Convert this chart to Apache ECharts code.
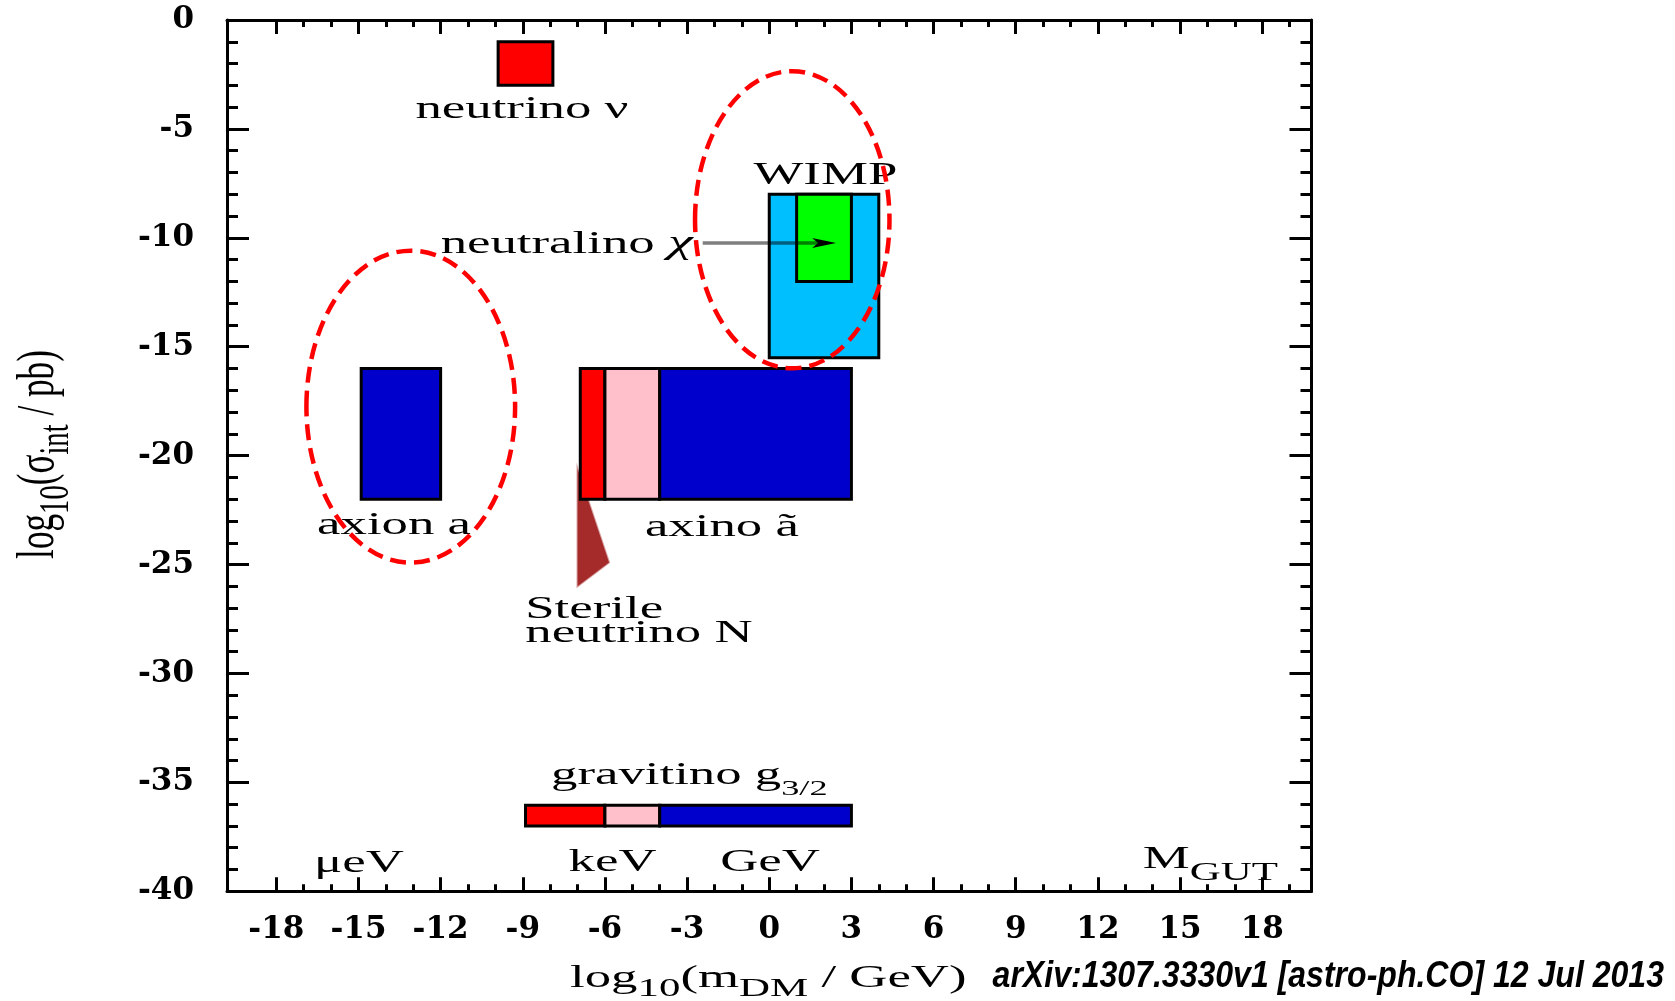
<!DOCTYPE html>
<html>
<head>
<meta charset="utf-8">
<script src="https://cdn.jsdelivr.net/npm/echarts@6/dist/echarts.min.js"></script>
<style>
html,body{margin:0;padding:0;background:#fff;}
#chart{width:1675px;height:1001px;}
</style>
</head>
<body>
<div id="chart"></div>
<script>
// ---------------- data ----------------
// axis ticks
const xTicks = [-18, -15, -12, -9, -6, -3, 0, 3, 6, 9, 12, 15, 18];
const xMinorTicks = [-18, -17, -16, -15, -14, -13, -12, -11, -10, -9, -8, -7, -6, -5, -4, -3, -2, -1, 0,
                     1, 2, 3, 4, 5, 6, 7, 8, 9, 10, 11, 12, 13, 14, 15, 16, 17, 18, 19];

// rectangular regions: log10(m/GeV) range and log10(sigma/pb) range
const boxNames = ['neutrino ν', 'WIMP', 'neutralino χ', 'axion a',
                  'axino (low)', 'axino (mid)', 'axino (high)',
                  'gravitino (low)', 'gravitino (mid)', 'gravitino (high)'];
const boxXMin = [-9.9, 0, 1, -14.9, -6.9, -6, -4, -8.9, -6, -4];
const boxXMax = [-7.9, 4, 3, -12, -6, -4, 3, -6, -4, 3];
const boxYMin = [-3, -15.5, -12, -22, -22, -22, -22, -37, -37, -37];
const boxYMax = [-1, -8, -8, -16, -16, -16, -16, -36.05, -36.05, -36.05];

// sterile neutrino wedge
const sterileX = [-7.0, -5.85, -7.0];
const sterileY = [-20.6, -24.9, -26.0];

// dashed ellipses (centre and half-widths in data units)
const ellipseCX = [-13.09, 0.84];
const ellipseCY = [-17.75, -9.17];
const ellipseRX = [3.81, 3.55];
const ellipseRY = [7.16, 6.82];

// neutralino arrow
const arrowX = [-2.43, 2.44];
const arrowY = [-10.24, -10.24];

// annotations
const labelMain = ['neutrino ν', 'WIMP', 'neutralino ', 'axion a', 'axino ã',
                   'Sterile\nneutrino N', 'gravitino g', 'μeV', 'keV', 'GeV', 'M'];
const labelSub  = ['', '', '', '', '', '', '3/2', '', '', '', 'GUT'];
const labelItal = ['', '', 'χ', '', '', '', '', '', '', '', ''];
const labelX = [-9.03, 2.05, -2.80, -13.7, -1.73, -8.91, -7.97, -14.98, -5.72, 0.03, 13.64];
const labelY = [-4.12, -7.15, -10.3, -23.2, -23.3, -27.62, -34.7, -38.75, -38.68, -38.68, -38.53];

// ---------------- styles ----------------
const boxFill = ['#FF0000', '#00BFFF', '#00FF00', '#0000CC',
                 '#FF0000', '#FFC0CB', '#0000CC',
                 '#FF0000', '#FFC0CB', '#0000CC'];
const labelAlign = ['center', 'center', 'right', 'center', 'center', 'left', 'left', 'center', 'center', 'center', 'left'];
const subPad = {'3/2': 26, 'GUT': 27};
const subSize = {'3/2': 22, 'GUT': 26};

const SERIF = 'Liberation Serif';
const TICKFONT = 'DejaVu Serif';
const STRETCH = 1.65;

function tickAxis(opts) {
  return Object.assign({
    type: 'value',
    gridIndex: 0,
    splitLine: {show: false},
    axisLine: {show: false, onZero: false, lineStyle: {color: '#000', width: 3}},
    axisTick: {show: true, inside: true, lineStyle: {color: '#000', width: 3}},
    axisLabel: {show: false}
  }, opts);
}

const xAxes = [
  tickAxis({position: 'bottom', min: -19.8, max: 19.8,
    axisLine: {show: true, onZero: false, lineStyle: {color: '#000', width: 3}},
    axisTick: {show: true, inside: true, length: 14, customValues: xTicks, lineStyle: {color: '#000', width: 3}},
    axisLabel: {show: true, customValues: xTicks, margin: 23, color: '#000',
      fontFamily: TICKFONT, fontSize: 31, fontWeight: 'bold'}}),
  tickAxis({position: 'bottom', min: -19.8, max: 19.8,
    axisTick: {show: true, inside: true, length: 7, customValues: xMinorTicks, lineStyle: {color: '#000', width: 3}}}),
  tickAxis({position: 'top', min: -19.8, max: 19.8,
    axisLine: {show: true, onZero: false, lineStyle: {color: '#000', width: 3}},
    axisTick: {show: true, inside: true, length: 14, customValues: xTicks, lineStyle: {color: '#000', width: 3}}}),
  tickAxis({position: 'top', min: -19.8, max: 19.8,
    axisTick: {show: true, inside: true, length: 7, customValues: xMinorTicks, lineStyle: {color: '#000', width: 3}}})
];

const yAxes = [
  tickAxis({position: 'left', min: -40, max: 0, interval: 5,
    axisLine: {show: true, onZero: false, lineStyle: {color: '#000', width: 3}},
    axisTick: {show: true, inside: true, length: 22, lineStyle: {color: '#000', width: 3}},
    axisLabel: {show: true, margin: 33, color: '#000', fontFamily: TICKFONT, fontSize: 31, fontWeight: 'bold'}}),
  tickAxis({position: 'left', min: -40, max: 0, interval: 1,
    axisTick: {show: true, inside: true, length: 11, lineStyle: {color: '#000', width: 3}}}),
  tickAxis({position: 'right', min: -40, max: 0, interval: 5,
    axisLine: {show: true, onZero: false, lineStyle: {color: '#000', width: 3}},
    axisTick: {show: true, inside: true, length: 22, lineStyle: {color: '#000', width: 3}}}),
  tickAxis({position: 'right', min: -40, max: 0, interval: 1,
    axisTick: {show: true, inside: true, length: 11, lineStyle: {color: '#000', width: 3}}})
];

const serifRich = {
  n: {fontFamily: SERIF, fontSize: 32, lineHeight: 34},
  s: {fontFamily: SERIF, fontSize: 26, padding: [22, 0, 0, 0]}
};

const option = {
  animation: false,
  backgroundColor: '#fff',
  grid: {left: 227, top: 20, width: 1084.5, height: 871.3, show: false},
  xAxis: xAxes,
  yAxis: yAxes,
  series: [
    // sterile neutrino wedge (behind the bars)
    {
      type: 'custom', name: 'Sterile neutrino N', xAxisIndex: 0, yAxisIndex: 0, silent: true, z: 2,
      data: [[sterileX[0], sterileY[0], sterileX[1], sterileY[1], sterileX[2], sterileY[2]]],
      renderItem: function (params, api) {
        const pts = [
          api.coord([api.value(0), api.value(1)]),
          api.coord([api.value(2), api.value(3)]),
          api.coord([api.value(4), api.value(5)])
        ];
        return {type: 'polygon', shape: {points: pts}, style: {fill: '#A52A2A', stroke: 'rgba(165,42,42,0.45)', lineWidth: 2}};
      }
    },
    // rectangles
    {
      type: 'custom', name: 'regions', xAxisIndex: 0, yAxisIndex: 0, silent: true, z: 3,
      data: boxNames.map(function (n, i) { return [boxXMin[i], boxXMax[i], boxYMin[i], boxYMax[i], i]; }),
      renderItem: function (params, api) {
        const p0 = api.coord([api.value(0), api.value(3)]);
        const p1 = api.coord([api.value(1), api.value(2)]);
        const i = api.value(4);
        return {
          type: 'rect',
          shape: {x: p0[0], y: p0[1], width: p1[0] - p0[0], height: p1[1] - p0[1]},
          style: {fill: boxFill[i], stroke: '#000', lineWidth: 3}
        };
      }
    },
    // arrow to neutralino
    {
      type: 'custom', name: 'arrow', xAxisIndex: 0, yAxisIndex: 0, silent: true, z: 4,
      data: [[arrowX[0], arrowY[0], arrowX[1], arrowY[1]]],
      renderItem: function (params, api) {
        const a = api.coord([api.value(0), api.value(1)]);
        const b = api.coord([api.value(2), api.value(3)]);
        return {
          type: 'group',
          children: [
            {type: 'line', shape: {x1: a[0], y1: a[1], x2: b[0] - 10, y2: b[1]},
             style: {stroke: 'rgba(0,0,0,0.5)', lineWidth: 3.5}},
            {type: 'polygon', shape: {points: [[b[0], b[1]], [b[0] - 24, b[1] - 5], [b[0] - 18, b[1]], [b[0] - 24, b[1] + 5]]},
             style: {fill: '#000'}}
          ]
        };
      }
    },
    // annotations
    {
      type: 'custom', name: 'labels', xAxisIndex: 0, yAxisIndex: 0, silent: true, z: 5,
      data: labelMain.map(function (t, i) { return [labelX[i], labelY[i], i]; }),
      renderItem: function (params, api) {
        const i = api.value(2);
        const p = api.coord([api.value(0), api.value(1)]);
        const sub = labelSub[i];
        const ital = labelItal[i];
        const style = {
          fill: '#000', fontFamily: SERIF, fontSize: 32,
          align: labelAlign[i], verticalAlign: 'middle'
        };
        if (sub) {
          style.text = '{n|' + labelMain[i] + '}{s|' + sub + '}';
          style.rich = {
            n: {fontFamily: SERIF, fontSize: 32, lineHeight: 34},
            s: {fontFamily: SERIF, fontSize: subSize[sub], padding: [subPad[sub], 0, 0, 0]}
          };
        } else if (ital) {
          style.text = '{n|' + labelMain[i] + '}{i|' + ital + '}';
          style.rich = {
            n: {fontFamily: SERIF, fontSize: 32, lineHeight: 34},
            i: {fontFamily: SERIF, fontSize: 34, fontStyle: 'italic', lineHeight: 34}
          };
        } else {
          style.text = labelMain[i];
          style.lineHeight = 23.4;
        }
        return {type: 'text', x: p[0], y: p[1], scaleX: STRETCH, style: style};
      }
    },
    // dashed ellipses
    {
      type: 'custom', name: 'ellipses', xAxisIndex: 0, yAxisIndex: 0, silent: true, z: 6,
      data: ellipseCX.map(function (c, i) { return [ellipseCX[i], ellipseCY[i], ellipseRX[i], ellipseRY[i]]; }),
      renderItem: function (params, api) {
        const c = api.coord([api.value(0), api.value(1)]);
        const s = api.size([api.value(2), api.value(3)]);
        return {
          type: 'ellipse',
          shape: {cx: c[0], cy: c[1], rx: s[0], ry: s[1]},
          style: {fill: 'none', stroke: '#FF0000', lineWidth: 4.5, lineDash: [16, 8]}
        };
      }
    }
  ],
  graphic: [
    {
      type: 'text', x: 768.3, y: 978.5, scaleX: STRETCH, silent: true,
      style: {
        text: '{n|log}{s|10}{n|(m}{s|DM}{n| / GeV)}',
        rich: serifRich, fill: '#000', align: 'center', verticalAlign: 'middle',
        fontFamily: SERIF, fontSize: 32
      }
    },
    {
      type: 'text', x: 39, y: 454.5, rotation: Math.PI / 2, scaleY: STRETCH, scaleX: 1.1, silent: true,
      style: {
        text: '{n|log}{s|10}{n|(σ}{s|int}{n| / pb)}',
        rich: serifRich, fill: '#000', align: 'center', verticalAlign: 'middle',
        fontFamily: SERIF, fontSize: 32
      }
    },
    {
      type: 'text', x: 1664, y: 977, scaleX: 0.89, silent: true,
      style: {
        text: 'arXiv:1307.3330v1 [astro-ph.CO] 12 Jul 2013',
        fill: '#000', align: 'right', verticalAlign: 'middle',
        fontFamily: 'Liberation Sans', fontSize: 36, fontWeight: 'bold', fontStyle: 'italic'
      }
    }
  ]
};

const chart = echarts.init(document.getElementById('chart'), null, {renderer: 'canvas'});
chart.setOption(option);
</script>
</body>
</html>
